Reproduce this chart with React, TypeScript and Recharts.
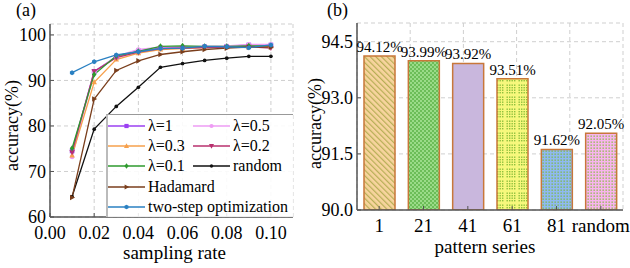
import React from 'react';
import {
  LineChart, Line, XAxis, YAxis, CartesianGrid, Legend,
  BarChart, Bar, Cell, LabelList,
} from 'recharts';

const FONT = "'Liberation Serif', 'Times New Roman', Times, serif";

// ---------- data (a) ----------
const samplingRates = [0.01, 0.02, 0.03, 0.04, 0.05, 0.06, 0.07, 0.08, 0.09, 0.1];
const lambda1 = [74.5, 92.0, 95.2, 96.5, 97.2, 97.3, 97.4, 97.5, 97.8, 97.8];
const lambda05 = [73.2, 91.8, 95.3, 96.8, 97.3, 97.4, 97.5, 97.6, 97.9, 97.9];
const lambda03 = [73.5, 89.6, 94.6, 96.0, 96.8, 97.0, 97.2, 97.3, 97.5, 97.5];
const lambda02 = [74.2, 92.0, 95.0, 96.2, 97.0, 97.1, 97.2, 97.3, 97.4, 97.1];
const lambda01 = [75.1, 91.3, 95.4, 96.4, 97.5, 97.6, 97.5, 97.5, 97.6, 97.6];
const randomAcc = [64.5, 79.3, 84.3, 88.5, 92.9, 93.7, 94.4, 94.9, 95.3, 95.3];
const hadamardAcc = [64.3, 85.9, 92.2, 94.3, 95.7, 96.3, 96.8, 97.1, 97.3, 97.3];
const twoStepAcc = [91.7, 94.1, 95.6, 96.3, 97.0, 97.1, 97.5, 97.4, 97.2, 97.8];

const xTicksA = [0, 0.02, 0.04, 0.06, 0.08, 0.1];
const yTicksA = [60, 70, 80, 90, 100];

// ---------- data (b) ----------
const patternSeries = ['1', '21', '41', '61', '81', 'random'];
const patternAccuracy = [94.12, 93.99, 93.92, 93.51, 91.62, 92.05];
const yTicksB = [90, 91.5, 93, 94.5];
const bandBoundaries = [1, 2, 3, 4, 5];

const lineData = samplingRates.map((rate, i) => ({
  rate,
  l1: lambda1[i],
  l05: lambda05[i],
  l03: lambda03[i],
  l02: lambda02[i],
  l01: lambda01[i],
  rnd: randomAcc[i],
  had: hadamardAcc[i],
  two: twoStepAcc[i],
}));

const barData = patternSeries.map((name, i) => ({ name, acc: patternAccuracy[i] }));

type Shape = 'square' | 'circle' | 'tri' | 'triDown' | 'diamond' | 'dot' | 'triRight' | 'hex';

const series: { key: string; name: string; color: string; shape: Shape; col: number; row: number }[] = [
  { key: 'l1', name: 'λ=1', color: '#9B40F2', shape: 'square', col: 0, row: 0 },
  { key: 'l05', name: 'λ=0.5', color: '#EE9CF4', shape: 'circle', col: 1, row: 0 },
  { key: 'l03', name: 'λ=0.3', color: '#F6A04C', shape: 'tri', col: 0, row: 1 },
  { key: 'l02', name: 'λ=0.2', color: '#B8306E', shape: 'triDown', col: 1, row: 1 },
  { key: 'l01', name: 'λ=0.1', color: '#2E9A2E', shape: 'diamond', col: 0, row: 2 },
  { key: 'rnd', name: 'random', color: '#111111', shape: 'dot', col: 1, row: 2 },
  { key: 'had', name: 'Hadamard', color: '#7A3E1C', shape: 'triRight', col: 0, row: 3 },
  { key: 'two', name: 'two-step optimization', color: '#2A80C2', shape: 'hex', col: 0, row: 4 },
];

function Marker({ cx, cy, shape, color, s = 2.3 }: { cx: number; cy: number; shape: Shape; color: string; s?: number }) {
  if (cx == null || cy == null) return null;
  switch (shape) {
    case 'square':
      return <rect x={cx - s} y={cy - s} width={2 * s} height={2 * s} fill={color} />;
    case 'circle':
      return <circle cx={cx} cy={cy} r={s} fill={color} />;
    case 'tri':
      return <polygon points={`${cx},${cy - s * 1.3} ${cx + s * 1.2},${cy + s * 0.9} ${cx - s * 1.2},${cy + s * 0.9}`} fill={color} />;
    case 'triDown':
      return <polygon points={`${cx},${cy + s * 1.3} ${cx + s * 1.2},${cy - s * 0.9} ${cx - s * 1.2},${cy - s * 0.9}`} fill={color} />;
    case 'diamond':
      return <polygon points={`${cx},${cy - s * 1.3} ${cx + s},${cy} ${cx},${cy + s * 1.3} ${cx - s},${cy}`} fill={color} />;
    case 'dot':
      return <circle cx={cx} cy={cy} r={s * 0.8} fill={color} />;
    case 'triRight':
      return <polygon points={`${cx + s * 1.3},${cy} ${cx - s * 0.9},${cy - s * 1.2} ${cx - s * 0.9},${cy + s * 1.2}`} fill={color} />;
    case 'hex': {
      const pts = [0, 1, 2, 3, 4, 5]
        .map((k) => {
          const a = (Math.PI / 3) * k + Math.PI / 6;
          return `${cx + s * 1.1 * Math.cos(a)},${cy + s * 1.1 * Math.sin(a)}`;
        })
        .join(' ');
      return <polygon points={pts} fill={color} />;
    }
    default:
      return null;
  }
}

const makeDot = (shape: Shape, color: string) => (props: any) => (
  <g key={`dot-${props.index}`}>
    <Marker cx={props.cx} cy={props.cy} shape={shape} color={color} />
  </g>
);

function LegendBox() {
  return (
    <div
      style={{
        position: 'relative',
        width: 187,
        height: 103,
        boxSizing: 'border-box',
        borderTop: '1px solid #999',
        borderLeft: '2px solid #bbb',
        background: 'rgba(255,255,255,0.88)',
        fontFamily: FONT,
        fontSize: 16,
        color: '#000',
      }}
    >
      {series.map((s) => (
        <div
          key={s.key}
          style={{
            position: 'absolute',
            left: s.col === 0 ? 0 : 85,
            top: 1 + s.row * 20.2,
            height: 20,
            display: 'flex',
            alignItems: 'center',
            whiteSpace: 'nowrap',
          }}
        >
          <svg width={37} height={10} style={{ display: 'block' }}>
            <line x1={0} y1={5} x2={37} y2={5} stroke={s.color} strokeWidth={1.5} />
            <Marker cx={18.5} cy={5} shape={s.shape} color={s.color} s={2.1} />
          </svg>
          <span style={{ marginLeft: 3, lineHeight: '20px' }}>{s.name}</span>
        </div>
      ))}
    </div>
  );
}

const tickStyle = { fontSize: 18, fill: '#000', fontFamily: FONT };
const axisLineMain = { stroke: '#555', strokeWidth: 1.5 };
const axisLineFrame = { stroke: '#333', strokeWidth: 1 };

const yLabel = (dx: number, dy: number) => ({ viewBox }: any) => (
  <text
    transform={`translate(${viewBox.x + dx}, ${viewBox.y + viewBox.height / 2 + dy}) rotate(-90)`}
    textAnchor="middle"
    fontSize={18}
    fontFamily={FONT}
    fill="#000"
  >
    accuracy(%)
  </text>
);

const xLabel = (text: string, dx: number, dy: number) => ({ viewBox }: any) => (
  <text
    x={viewBox.x + viewBox.width / 2 + dx}
    y={viewBox.y + dy}
    textAnchor="middle"
    fontSize={19}
    fontFamily={FONT}
    fill="#000"
  >
    {text}
  </text>
);

function Patterns() {
  const dots = (w: number, step: number, color: string, size: number) => {
    const out: React.ReactNode[] = [];
    for (let x = 0; x < w; x += step) {
      for (let y = 0; y < w; y += step) {
        out.push(<rect key={`${x}-${y}`} x={x + 0.5} y={y + 0.5} width={size} height={size} fill={color} />);
      }
    }
    return out;
  };
  return (
    <defs>
      <pattern id="pat0" width={4} height={4} patternUnits="userSpaceOnUse" patternTransform="rotate(-45)">
        <rect width={4} height={4} fill="#F8D49E" />
        <line x1={0.6} y1={0} x2={0.6} y2={4} stroke="#B6AE55" strokeWidth={1.2} />
      </pattern>
      <pattern id="pat1" width={4} height={4} patternUnits="userSpaceOnUse">
        <rect width={4} height={4} fill="#9ADB88" />
        <rect x={0} y={0} width={2} height={2} fill="#6CBD58" />
        <rect x={2} y={2} width={2} height={2} fill="#6CBD58" />
      </pattern>
      <pattern id="pat2" width={4} height={4} patternUnits="userSpaceOnUse">
        <rect width={4} height={4} fill="#C9B7DD" />
      </pattern>
      <pattern id="pat3" width={12} height={12} patternUnits="userSpaceOnUse">
        <rect width={12} height={12} fill="#F7F87C" />
        {dots(10, 2.5, '#8EC03C', 1.4)}
      </pattern>
      <pattern id="pat4" width={3} height={3} patternUnits="userSpaceOnUse">
        <rect width={3} height={3} fill="#8FB9F1" />
        <rect x={0.5} y={0.5} width={1.3} height={1.3} fill="#7DBA3C" />
      </pattern>
      <pattern id="pat5" width={3} height={3} patternUnits="userSpaceOnUse">
        <rect width={3} height={3} fill="#F8B4EE" />
        <rect x={0.5} y={0.5} width={1.3} height={1.3} fill="#86BC3A" />
      </pattern>
    </defs>
  );
}

export default function App() {
  return (
    <div style={{ position: 'absolute', left: 0, top: 0, width: 630, height: 268, background: '#fff', fontFamily: FONT }}>
      <LineChart
        width={315}
        height={268}
        data={lineData}
        margin={{ top: 24, right: 22, bottom: 0, left: 0 }}
        style={{ position: 'absolute', left: 0, top: 0 }}
      >
        <CartesianGrid strokeDasharray="4 3" stroke="#cfcfcf" />
        <XAxis
          dataKey="rate"
          type="number"
          domain={[0, 0.11]}
          ticks={xTicksA}
          tickFormatter={(v: number) => v.toFixed(2)}
          height={51}
          tick={tickStyle}
          tickSize={-4}
          tickMargin={13}
          axisLine={axisLineMain}
          tickLine={{ stroke: '#555' }}
          allowDataOverflow
          label={{ content: xLabel('sampling rate', 3, 42) }}
        />
        <XAxis xAxisId="top" orientation="top" type="number" domain={[0, 1]} height={0} tick={false} tickLine={false} axisLine={axisLineFrame} />
        <YAxis
          type="number"
          domain={[60, 102.4]}
          ticks={yTicksA}
          width={50}
          tick={tickStyle}
          tickSize={-4}
          tickMargin={8}
          axisLine={axisLineMain}
          tickLine={{ stroke: '#555' }}
          allowDataOverflow
          label={{ content: yLabel(18, 5) }}
        />
        <YAxis yAxisId="right" orientation="right" type="number" domain={[0, 1]} width={0} tick={false} tickLine={false} axisLine={axisLineFrame} />
        <Legend
          layout="horizontal"
          verticalAlign="middle"
          align="center"
          content={() => <LegendBox />}
          wrapperStyle={{ left: 106, top: 114, width: 187, height: 103, margin: 0, padding: 0 }}
        />
        {series.map((s) => (
          <Line
            key={s.key}
            dataKey={s.key}
            name={s.name}
            stroke={s.color}
            strokeWidth={1.3}
            dot={makeDot(s.shape, s.color)}
            activeDot={false}
            isAnimationActive={false}
          />
        ))}
      </LineChart>

      <BarChart
        width={340}
        height={268}
        data={barData}
        margin={{ top: 23, right: 7, bottom: 0, left: 0 }}
        style={{ position: 'absolute', left: 290, top: 0 }}
      >
        <Patterns />
        <CartesianGrid xAxisId="grid" strokeDasharray="4 3" stroke="#cfcfcf" />
        <XAxis
          dataKey="name"
          height={58}
          interval={0}
          tick={{ ...tickStyle, fontSize: 19 }}
          tickSize={-4}
          tickMargin={13}
          axisLine={axisLineMain}
          tickLine={{ stroke: '#555' }}
          label={{ content: xLabel('pattern series', -5, 43) }}
        />
        <XAxis xAxisId="grid" type="number" domain={[0, 6]} ticks={bandBoundaries} hide />
        <XAxis xAxisId="top" orientation="top" type="number" domain={[0, 1]} height={0} tick={false} tickLine={false} axisLine={axisLineFrame} />
        <YAxis
          type="number"
          domain={[90, 95]}
          ticks={yTicksB}
          tickFormatter={(v: number) => v.toFixed(1)}
          width={67}
          tick={tickStyle}
          tickSize={-4}
          tickMargin={8}
          axisLine={axisLineMain}
          tickLine={{ stroke: '#555' }}
          allowDataOverflow
          label={{ content: yLabel(31, 7) }}
        />
        <YAxis yAxisId="right" orientation="right" type="number" domain={[0, 1]} width={0} tick={false} tickLine={false} axisLine={axisLineFrame} />
        <Bar dataKey="acc" barSize={31} stroke="#C8773A" strokeWidth={1.5} isAnimationActive={false}>
          {barData.map((d, i) => (
            <Cell key={d.name} fill={`url(#pat${i})`} />
          ))}
          <LabelList
            dataKey="acc"
            position="top"
            offset={4}
            formatter={(v: any) => `${Number(v).toFixed(2)}%`}
            style={{ fontSize: 15, fill: '#000', fontFamily: FONT }}
          />
        </Bar>
      </BarChart>

      <div style={{ position: 'absolute', left: 16, top: 1, fontSize: 18, lineHeight: '18px', color: '#000', fontFamily: FONT }}>(a)</div>
      <div style={{ position: 'absolute', left: 327, top: 1, fontSize: 18, lineHeight: '18px', color: '#000', fontFamily: FONT }}>(b)</div>
    </div>
  );
}
